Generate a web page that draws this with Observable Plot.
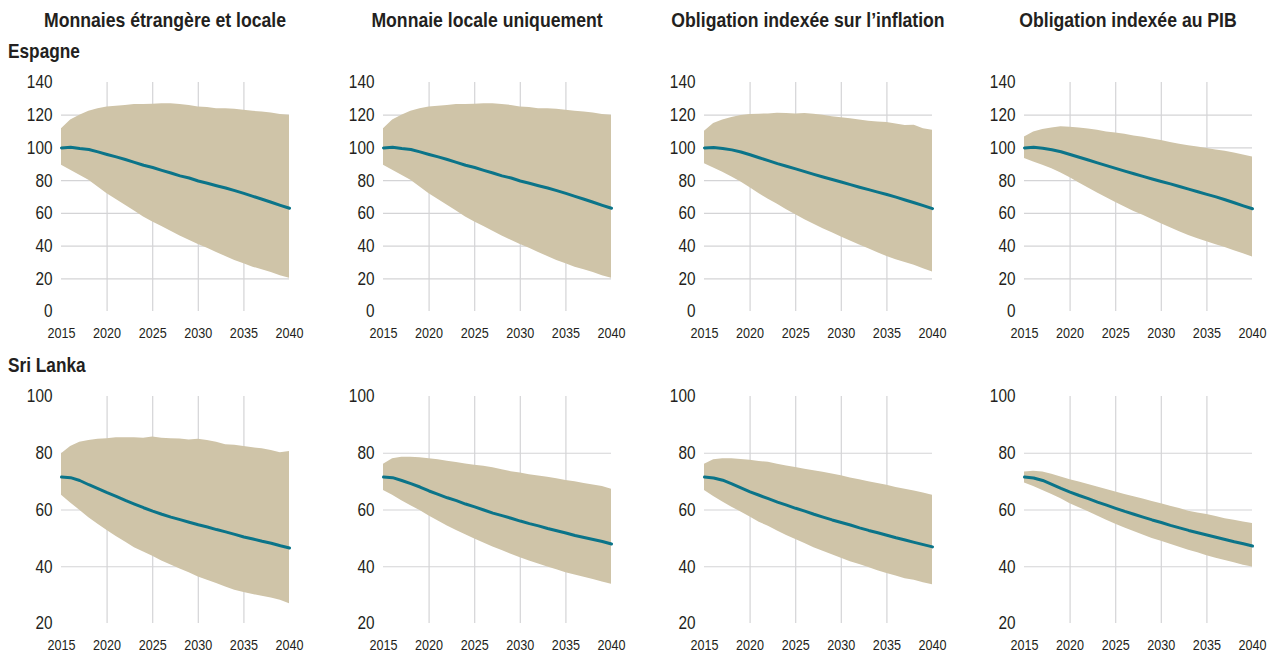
<!DOCTYPE html>
<html lang="fr">
<head>
<meta charset="utf-8">
<script src="https://cdn.jsdelivr.net/npm/d3@7"></script>
<script src="https://cdn.jsdelivr.net/npm/@observablehq/plot@0.6"></script>
<style>
  html, body { margin: 0; padding: 0; background: #fff; }
  #page { position: relative; width: 1268px; height: 653px; overflow: hidden; color: #231f20;
          font-family: "Liberation Sans", Arial, Helvetica, sans-serif; }
  .panel { position: absolute; }
  .panel svg { overflow: visible; }
  #labels { position: absolute; left: 0; top: 0; }
</style>
</head>
<body>
<div id="page"><svg id="labels" width="1268" height="653"></svg></div>
<script>
// Years on the horizontal axis
const years = [2015,2016,2017,2018,2019,2020,2021,2022,2023,2024,2025,2026,2027,2028,2029,2030,2031,2032,2033,2034,2035,2036,2037,2038,2039,2040];
const yearTicks = [2015, 2020, 2025, 2030, 2035, 2040];

// Column headings (debt instrument) and row headings (country)
const instruments = ["Monnaies étrangère et locale", "Monnaie locale uniquement", "Obligation indexée sur l’inflation", "Obligation indexée au PIB"];
const countries = ["Espagne", "Sri Lanka"];

// Value axes per country
const espTicks = [0, 20, 40, 60, 80, 100, 120, 140];
const sriTicks = [20, 40, 60, 80, 100];

// Espagne — foreign and local currency
const espFxHi  = [111.8,117,120,122.4,124,125,125.5,126,126.5,126.5,126.7,127,127,126.5,126,125,124.7,124,123.9,123.7,123,122.4,122,121.4,120.4,120];
const espFxMid = [100,100.4,99.6,99,97.6,96,94.5,92.9,91.2,89.4,88,86.3,84.7,82.9,81.6,79.8,78.4,76.9,75.5,73.9,72.2,70.4,68.6,66.8,64.9,63.1];
const espFxLo  = [89.4,86.3,83.3,80.2,76.1,72,68.4,64.9,61.4,57.8,54.7,52,49,46.1,43.5,41,38.6,36.1,33.7,31.2,29.2,27.1,25.5,23.9,21.8,20.4];

// Espagne — local currency only
const espLcHi  = [111.8,117,120,122.4,124,125,125.5,126,126.5,126.5,126.7,127,127,126.5,126,125,124.7,124,123.9,123.7,123,122.4,122,121.4,120.4,120];
const espLcMid = [100,100.4,99.6,99,97.6,96,94.5,92.9,91.2,89.4,88,86.3,84.7,82.9,81.6,79.8,78.4,76.9,75.5,73.9,72.2,70.4,68.6,66.8,64.9,63.1];
const espLcLo  = [89.4,86.3,83.3,80.2,76.1,72,68.4,64.9,61.4,57.8,54.7,52,49,46.1,43.5,41,38.6,36.1,33.7,31.2,29.2,27.1,25.5,23.9,21.8,20.4];

// Espagne — inflation-indexed bond
const espInfHi  = [110.2,115,117,118.6,119.8,120.4,120.6,120.8,121.2,121,120.8,121,120.6,120,119,118.4,117.8,117,116.3,115.9,115.5,114.7,113.7,113.9,111.8,110.8];
const espInfMid = [100,100.3,99.7,98.8,97.5,95.8,94,92.2,90.4,88.8,87.2,85.5,83.8,82.2,80.7,79.2,77.6,76,74.5,73,71.5,69.9,68.2,66.5,64.7,62.9];
const espInfLo  = [90.4,87.8,85.1,82.2,79.2,75.7,72,68.6,65.5,62.2,59.2,56.1,53.3,50.6,48.2,45.5,43.1,40.6,38.4,35.9,33.7,31.6,30,28.2,26.1,24.1];

// Espagne — GDP-indexed bond
const espGdpHi  = [106.7,109.8,111.2,112.2,112.9,112.7,112.2,111.6,110.8,109.8,109.2,108.4,107.3,106.5,105.5,104.5,103.3,102.2,101.4,100.6,99.6,98.8,98,96.9,95.7,94.5];
const espGdpMid = [100,100.4,99.8,98.9,97.7,96,94.3,92.6,90.9,89.2,87.5,85.8,84.2,82.6,81,79.5,78,76.4,74.8,73.2,71.6,70.1,68.3,66.5,64.6,62.8];
const espGdpLo  = [93.5,91.4,89.4,87.3,84.7,81.8,78.6,75.5,72.4,69.6,66.7,63.9,61.2,58.8,56.3,53.7,51.2,48.8,46.5,44.5,42.7,40.8,39.2,37.1,35.3,33.3];

// Sri Lanka — foreign and local currency
const sriFxHi  = [79.8,82.4,83.9,84.5,84.9,85.1,85.5,85.5,85.5,85.3,85.7,85.3,85.1,85,84.7,84.9,84.5,83.9,83,82.8,82.4,81.9,81.6,81,80.2,80.6];
const sriFxMid = [71.6,71.4,70.4,68.9,67.5,66.1,64.8,63.4,62.1,60.8,59.6,58.5,57.5,56.6,55.7,54.8,54,53.1,52.3,51.4,50.5,49.8,49,48.3,47.4,46.6];
const sriFxLo  = [65.2,62.5,59.9,57.3,55,52.8,50.7,48.7,46.7,45.2,43.7,42,40.6,39.2,37.9,36.4,35.2,34.1,32.9,31.7,30.9,30.2,29.6,29,28.2,27];

// Sri Lanka — local currency only
const sriLcHi  = [76.1,78.1,78.6,78.6,78.4,78.1,77.7,77.2,76.7,76.2,75.8,75.4,74.9,74.2,73.5,73,72.4,72,71.5,71,70.4,70,69.3,68.8,68.3,67.3];
const sriLcMid = [71.6,71.4,70.4,69.3,68.1,66.7,65.5,64.3,63.3,62.1,61.1,60,58.9,58,57.1,56.1,55.2,54.4,53.5,52.7,51.9,51,50.3,49.6,48.9,48];
const sriLcLo  = [66.9,65.2,63.3,61.5,59.8,57.9,56.1,54.4,52.8,51.3,49.8,48.4,47,45.7,44.4,43.2,42,41,39.9,38.9,37.9,37.1,36.3,35.5,34.6,33.8];

// Sri Lanka — inflation-indexed bond
const sriInfHi  = [76.1,77.7,78.1,78.1,77.8,77.5,77.1,76.8,76.1,75.5,75,74.4,73.8,73.3,72.7,72.1,71.3,70.7,70,69.3,68.7,67.9,67.3,66.7,66,65.2];
const sriInfMid = [71.6,71.3,70.5,69.2,67.8,66.4,65.2,64,62.8,61.7,60.6,59.6,58.5,57.5,56.5,55.6,54.7,53.7,52.8,52,51.1,50.2,49.4,48.6,47.8,47];
const sriInfLo  = [66.9,64.8,62.8,61,59.3,57.5,55.7,54.3,52.6,51,49.6,48.2,46.7,45.5,44.2,43,41.8,40.8,39.7,38.6,37.6,36.7,35.8,35.2,34.4,33.7];

// Sri Lanka — GDP-indexed bond
const sriGdpHi  = [73.4,73.7,73.4,72.6,71.6,70.7,69.9,69,68.1,67.2,66.3,65.5,64.7,63.9,63,62.2,61.3,60.5,59.6,58.9,58.4,57.7,56.9,56.4,55.8,55.2];
const sriGdpMid = [71.6,71.3,70.4,69,67.6,66.3,65.1,64,62.8,61.7,60.6,59.5,58.5,57.5,56.5,55.6,54.6,53.7,52.8,52,51.2,50.4,49.6,48.8,48.1,47.3];
const sriGdpLo  = [69.5,68.3,66.9,65.5,64,62.2,60.8,59.4,57.9,56.4,55,53.7,52.4,51.2,50,49,47.9,46.9,45.8,44.9,43.9,43,42.2,41.4,40.5,39.9];

const series = [
  [[espFxHi, espFxMid, espFxLo], [espLcHi, espLcMid, espLcLo], [espInfHi, espInfMid, espInfLo], [espGdpHi, espGdpMid, espGdpLo]],
  [[sriFxHi, sriFxMid, sriFxLo], [sriLcHi, sriLcMid, sriLcLo], [sriInfHi, sriInfMid, sriInfLo], [sriGdpHi, sriGdpMid, sriGdpLo]]
];

const BAND = "#cfc4a8";
const LINE = "#0b7489";
const GRID = "#d4d4d6";
const INK = "#231f20";
const FONT = "\"Liberation Sans\", Arial, Helvetica, sans-serif";

const colLeft = [11, 333, 654, 974];
const rows = [
  {top: 72, plotH: 229, ticks: espTicks},
  {top: 386, plotH: 227, ticks: sriTicks}
];
const mL = 50, mR = 14, mT = 10, mB = 30, plotW = 228;

// Narrow the glyphs of a rendered text to a fraction of its natural width
function condense(node, s) {
  const w = node.getComputedTextLength();
  if (!(w > 0)) return;
  node.setAttribute("textLength", (w * s).toFixed(2));
  node.setAttribute("lengthAdjust", "spacingAndGlyphs");
}

const page = document.getElementById("page");

rows.forEach((row, r) => {
  const ticks = row.ticks;
  const dom = [ticks[0], ticks[ticks.length - 1]];
  const gridY = ticks.slice(1, -1);
  const gridX = yearTicks.slice(1, -1);
  series[r].forEach(([hi, mid, lo], c) => {
    const data = years.map((year, i) => ({year, hi: hi[i], mid: mid[i], lo: lo[i]}));
    const chart = Plot.plot({
      width: mL + plotW + mR,
      height: mT + row.plotH + mB,
      marginLeft: mL, marginRight: mR, marginTop: mT, marginBottom: mB,
      style: {fontFamily: FONT, color: INK, background: "transparent", overflow: "visible"},
      x: {domain: [2015, 2040], axis: null},
      y: {domain: dom, axis: null},
      marks: [
        Plot.ruleY(gridY, {stroke: GRID, strokeWidth: 1.2}),
        Plot.ruleX(gridX, {stroke: GRID, strokeWidth: 1.2}),
        Plot.areaY(data, {x: "year", y1: "lo", y2: "hi", fill: BAND}),
        Plot.lineY(data, {x: "year", y: "mid", stroke: LINE, strokeWidth: 3}),
        Plot.axisX({ticks: yearTicks, tickFormat: d => String(d), tickSize: 0, tickPadding: 16,
                    fontSize: 14.5, label: null, fill: INK}),
        Plot.axisY({ticks: ticks, tickFormat: d => String(d), tickSize: 0, tickPadding: 9,
                    fontSize: 18.5, label: null, fill: INK})
      ]
    });
    const div = document.createElement("div");
    div.className = "panel";
    div.style.left = colLeft[c] + "px";
    div.style.top = row.top + "px";
    div.appendChild(chart);
    page.appendChild(div);
    // year labels are drawn a little narrower than their natural width, value labels more so
    d3.select(chart).selectAll("text").each(function () {
      const s = this.textContent.trim();
      if (s === "" || !isFinite(+s)) return;
      condense(this, +s >= 2000 ? 0.87 : 0.83);
    });
  });
});

// Column headings and country headings
const labels = d3.select("#labels");
const titleX = colLeft.map(l => l + mL + plotW / 2 - 10);
labels.selectAll("text.col").data(instruments).join("text")
  .attr("class", "col")
  .attr("transform", (d, i) => `translate(${titleX[i]},27) scale(0.905,1)`)
  .attr("text-anchor", "middle")
  .attr("font-family", FONT).attr("font-weight", "bold").attr("font-size", 19.5)
  .attr("fill", INK)
  .text(d => d);
labels.selectAll("text.row").data(countries).join("text")
  .attr("class", "row")
  .attr("transform", (d, i) => `translate(8,${i === 0 ? 58 : 372}) scale(0.885,1)`)
  .attr("font-family", FONT).attr("font-weight", "bold").attr("font-size", 19.5)
  .attr("fill", INK)
  .text(d => d);
</script>
</body>
</html>
